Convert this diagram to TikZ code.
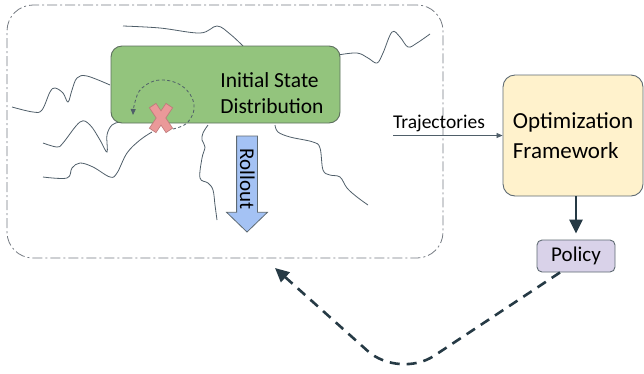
\documentclass[tikz,border=0pt]{standalone}
\usepackage{fontspec}
\setmainfont{Carlito}
\usetikzlibrary{shapes.arrows,arrows.meta}

\definecolor{envgray}{HTML}{757B82}
\definecolor{trajgray}{HTML}{4F5E69}
\definecolor{edgegray}{HTML}{5E6A72}
\definecolor{isdgreen}{HTML}{93C47D}
\definecolor{isdedge}{HTML}{5D6F5E}
\definecolor{rollblue}{HTML}{A4C2F4}
\definecolor{optyellow}{HTML}{FFF2CC}
\definecolor{polpurple}{HTML}{D9D2E9}
\definecolor{failpink}{HTML}{EA9999}
\definecolor{failedge}{HTML}{BF7A7A}
\definecolor{darkslate}{HTML}{263A45}

\begin{document}
\begin{tikzpicture}[x=1pt, y=-1pt,
    envbox/.style={draw=envgray, line width=0.8pt, rounded corners=26pt,
        dash pattern=on 10pt off 3pt on 2pt off 3pt},
    traj/.style={draw=trajgray, line width=0.8pt},
    isdbox/.style={draw=isdedge, fill=isdgreen, line width=0.9pt, rounded corners=11pt},
    optbox/.style={draw=edgegray, fill=optyellow, line width=0.9pt, rounded corners=12pt},
    polbox/.style={draw=edgegray, fill=polpurple, line width=0.9pt, rounded corners=5pt},
    rollout/.style={single arrow, rotate=-90, draw=edgegray, fill=rollblue, line width=0.8pt,
        single arrow head extend=10pt, single arrow tip angle=92, minimum height=96pt,
        inner xsep=2pt, inner ysep=3pt, text height=14pt, text depth=0pt,
        font=\fontsize{21}{24}\selectfont},
    thin arrow/.style={draw=trajgray, line width=0.8pt, -{Triangle[length=6pt,width=5pt]}},
    bold arrow/.style={draw=darkslate, line width=2.6pt, -{Triangle[length=14pt,width=13pt]}},
    loop arrow/.style={draw=trajgray, line width=0.8pt, dash pattern=on 3pt off 2.5pt,
        -{Triangle[length=6pt,width=5pt]}}]

    \useasboundingbox (0,0) rectangle (644,373);

    % Environment frame
    \node[envbox, minimum width=436pt, minimum height=253pt] (env) at (225,131.5) {};

    % Sampled trajectories
    \draw[traj] plot[smooth, tension=0.6] coordinates {(123,26) (160,28) (200,33) (217,26) (230,34) (243,46)};
    \draw[traj] plot[smooth, tension=0.6] coordinates {(338,55) (357,53) (368,58) (377,63) (383,53) (392,32) (400,37) (408,47) (417,43) (430,34)};
    \draw[traj] plot[smooth, tension=0.6] coordinates {(110,85) (87,76) (77,78) (72,90) (68,102) (63,93) (55,88) (50,92) (42,110) (33,112) (12,107)};
    \draw[traj] plot[smooth, tension=0.6] coordinates {(132,120) (120,122) (112,125) (107,135) (107,152) (100,140) (90,125) (80,122) (63,143) (57,147) (43,143)};
    \draw[traj] plot[smooth, tension=0.6] coordinates {(152,132) (140,140) (127,153) (117,173) (110,177) (93,167) (80,163) (72,168) (67,178) (43,177)};
    \draw[traj] plot[smooth, tension=0.6] coordinates {(208,125) (203,133) (202,140) (205,147) (202,158) (200,178) (208,183) (213,190) (215,205) (217,220)};
    \draw[traj] plot[smooth, tension=0.6] coordinates {(275,125) (278,132) (290,137) (313,142) (320,148) (323,170) (330,175) (340,177) (347,188) (357,197) (368,205)};

    % Initial state distribution
    \node[isdbox, minimum width=229pt, minimum height=77pt] (isd) at (225.5,84.5) {};
    \node[align=left, inner sep=0pt, font=\fontsize{21.5}{26}\selectfont] (isdtext) at (272,93) {Initial State\\Distribution};

    % Failed start and its loop
    \coordinate (fail) at (161,118);
    \draw[loop arrow] plot[smooth, tension=0.7] coordinates {(173,129) (188,122) (194,104) (182,86) (160,80) (142,88) (135,102) (133,115)};
    \draw[failedge, line width=8.6pt] ([shift={(-8.5,-12.7)}]fail) -- ([shift={(8.5,12.7)}]fail)
        ([shift={(8.5,-12.7)}]fail) -- ([shift={(-8.5,12.7)}]fail);
    \draw[failpink, line width=7pt] ([shift={(-8,-12)}]fail) -- ([shift={(8,12)}]fail)
        ([shift={(8,-12)}]fail) -- ([shift={(-8,12)}]fail);

    % Rollout
    \node[rollout] (roll) at (247,179) {Rollout};

    % Optimization and policy
    \node[optbox, minimum width=140pt, minimum height=121pt, align=left,
        font=\fontsize{23}{30}\selectfont] (opt) at (573,135.5) {Optimization\\Framework};
    \node[polbox, minimum width=78pt, minimum height=32pt, inner sep=0pt,
        font=\fontsize{21}{25}\selectfont] (pol) at (576,256) {Policy};

    \coordinate (trajin) at (393,135.5);
    \draw[thin arrow] (trajin) -- node[above=1pt, pos=0.42, inner sep=2pt,
        font=\fontsize{19.5}{23}\selectfont] (trajlabel) {Trajectories} (opt.west);
    \draw[bold arrow, shorten >=6pt] (pol.north |- opt.south) -- (pol.north);

    % Policy fed back into the environment
    \coordinate (dip) at (399,379);
    \coordinate (envin) at (275,268);
    \draw[bold arrow, rounded corners=42pt, dash pattern=on 10pt off 7pt]
        ([xshift=-16pt]pol.south) -- (dip) -- (envin);
\end{tikzpicture}
\end{document}
